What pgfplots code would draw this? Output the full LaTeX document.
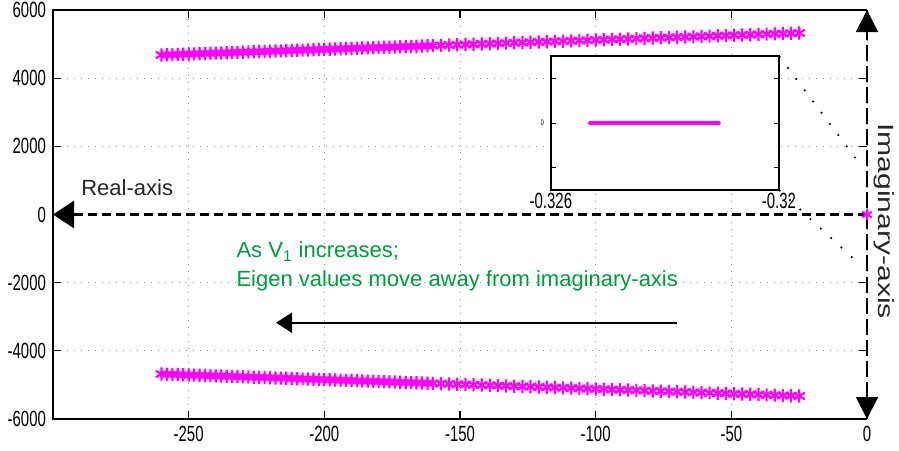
\documentclass[border=0pt]{standalone}
\usepackage{fontspec}
\setmainfont{Liberation Sans}
\newfontfamily\tickfont{Liberation Sans}[FakeStretch=0.68]
\usepackage{pgfplots}
\pgfplotsset{compat=1.18}
\usepackage{pgfplotstable}
\usetikzlibrary{arrows.meta}

\definecolor{locus}{RGB}{255,0,255}
\definecolor{notegreen}{RGB}{0,155,60}

% eigenvalue pairs (real part, upper and lower imaginary parts) as V1 is swept
\pgfplotstableread{
re    imup  imlow
-260  4680  -4680
-258  4685  -4685
-256  4691  -4691
-254  4696  -4696
-252  4702  -4702
-250  4707  -4707
-248  4713  -4713
-246  4718  -4718
-244  4724  -4724
-242  4729  -4729
-240  4735  -4735
-238  4740  -4740
-236  4746  -4746
-234  4751  -4751
-232  4757  -4757
-230  4762  -4762
-228  4768  -4768
-226  4773  -4773
-224  4779  -4779
-222  4784  -4784
-220  4790  -4790
-218  4795  -4795
-216  4801  -4801
-214  4806  -4806
-212  4812  -4812
-210  4817  -4817
-208  4823  -4823
-206  4828  -4828
-204  4834  -4834
-202  4839  -4839
-200  4845  -4845
-198  4850  -4850
-196  4856  -4856
-194  4861  -4861
-192  4867  -4867
-190  4872  -4872
-188  4878  -4878
-186  4883  -4883
-184  4889  -4889
-182  4894  -4894
-180  4900  -4900
-178  4905  -4905
-176  4911  -4911
-174  4916  -4916
-172  4922  -4922
-170  4927  -4927
-168  4933  -4933
-166  4938  -4938
-164  4944  -4944
-162  4949  -4949
-160  4955  -4955
-157  4963  -4963
-154  4971  -4971
-151  4980  -4980
-148  4988  -4988
-145  4996  -4996
-142  5004  -5004
-139  5012  -5012
-136  5020  -5020
-133  5029  -5029
-130  5037  -5037
-127  5045  -5045
-124  5053  -5053
-121  5062  -5062
-118  5070  -5070
-115  5078  -5078
-112  5086  -5086
-109  5094  -5094
-106  5103  -5103
-103  5111  -5111
-100  5119  -5119
-97   5127  -5127
-94   5135  -5135
-91   5144  -5144
-88   5152  -5152
-85   5160  -5160
-82   5168  -5168
-79   5177  -5177
-76   5185  -5185
-73   5193  -5193
-70   5201  -5201
-67   5209  -5209
-64   5218  -5218
-61   5226  -5226
-58   5234  -5234
-55   5242  -5242
-52   5251  -5251
-49   5259  -5259
-46   5267  -5267
-43   5275  -5275
-40   5284  -5284
-37   5292  -5292
-34   5300  -5300
-31   5308  -5308
-28   5317  -5317
-25   5325  -5325
}\branches

\begin{document}
\begin{tikzpicture}
\useasboundingbox (-26.5pt,-15.5pt) rectangle (423pt,209.5pt);
\begin{axis}[
  at={(0,0)}, anchor=south west,
  scale only axis, width=407pt, height=204.5pt,
  xmin=-300, xmax=0, ymin=-6000, ymax=6000,
  xtick={-250,-200,-150,-100,-50,0},
  xticklabels={-250,-200,-150,-100,-50,0},
  ytick={-6000,-4000,-2000,0,2000,4000,6000},
  yticklabels={-6000,-4000,-2000,0,2000,4000,6000},
  tick label style={font=\fontsize{11}{13}\tickfont},
  tick align=inside, major tick length=4pt,
  tick style={black, line width=0.6pt},
  grid=major,
  grid style={black!45, line width=0.5pt, dash pattern=on 0.5pt off 3pt},
  axis line style={draw=none},
  clip=false,
]
\addplot[only marks, mark=asterisk, mark size=3.3pt, locus,
  mark options={line width=1.1pt}] table[x=re, y=imup]{\branches};
\addplot[only marks, mark=asterisk, mark size=3.3pt, locus,
  mark options={line width=1.1pt}] table[x=re, y=imlow]{\branches};

% frame (right side replaced by the imaginary axis)
\draw[black, line width=0.8pt] (axis cs:0,6000) -- (axis cs:-300,6000)
  -- (axis cs:-300,-6000) -- (axis cs:0,-6000);
% real axis
\draw[black, line width=1.5pt, dash pattern=on 4.5pt off 2.5pt,
  -{Triangle[length=10.5pt,width=13.5pt]}] (axis cs:0,0) -- (axis cs:-300,0);
% imaginary axis
\draw[black, line width=1pt, dash pattern=on 8pt off 2.5pt,
  {Triangle[length=11pt,width=11pt]}-{Triangle[length=11pt,width=11pt]}]
  (axis cs:0,-6000) -- (axis cs:0,6000);
% direction of motion
\draw[black, line width=1pt, -{Triangle[length=8pt,width=10pt]}]
  (axis cs:-70,-3175) -- (axis cs:-217.8,-3175);
% zoom connectors
\draw[black, line width=0.9pt, dash pattern=on 0.8pt off 6.2pt]
  (axis cs:-32.4,4650) -- (axis cs:-1.5,1364);
\draw[black, line width=0.9pt, dash pattern=on 0.8pt off 6.2pt]
  (axis cs:-32.4,718) -- (axis cs:-2.9,-1452);

\node[anchor=base west, inner sep=0, font=\fontsize{11}{13}\selectfont, text=black!85]
  at (axis cs:-289.7,572) {Real-axis};
\node[anchor=base west, inner sep=0, font=\fontsize{11}{13}\selectfont, text=notegreen]
  at (axis cs:-232.5,-1268) {As V\textsubscript{1} increases;};
\node[anchor=base west, inner sep=0, font=\fontsize{11}{13}\selectfont, text=notegreen]
  at (axis cs:-232.5,-2118) {Eigen values move away from imaginary-axis};
\node[rotate=-90, inner sep=0, font=\fontsize{11}{13}\selectfont, text=black!85]
  at (axis cs:6.3,-191) {\scalebox{1.37}[1]{Imaginary-axis}};

\addplot[only marks, mark=asterisk, mark size=2.8pt, locus,
  mark options={line width=1pt}] coordinates {(0,0)};
\coordinate (insetSW) at (axis cs:-116.5,718);
\end{axis}

\begin{axis}[
  at={(insetSW)}, anchor=south west,
  scale only axis, width=114pt, height=67pt,
  xmin=-0.326, xmax=-0.32, ymin=-1.5, ymax=1.5,
  xtick={-0.326,-0.32}, xticklabels={-0.326,-0.32},
  ytick={-1,0,1}, yticklabels={,0,},
  tick align=inside, major tick length=2.5pt,
  tick style={black, line width=0.5pt},
  axis background/.style={fill=white},
  axis line style={black, line width=0.9pt},
  xticklabel style={font=\fontsize{11}{13}\tickfont, yshift=2pt},
  yticklabel style={font=\fontsize{4}{5}\tickfont},
  scaled x ticks=false,
]
\addplot[locus, line width=2pt, line cap=round] coordinates {
  (-0.32497,0) (-0.3245,0) (-0.3240,0) (-0.3235,0) (-0.3230,0)
  (-0.3225,0) (-0.3220,0) (-0.32158,0)};
\end{axis}
\end{tikzpicture}
\end{document}
